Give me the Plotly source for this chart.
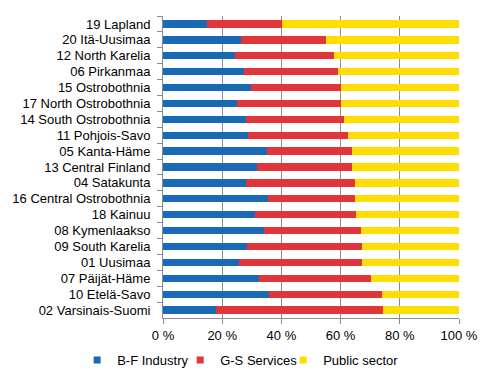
import plotly.graph_objects as go

regions = ["19 Lapland", "20 Itä-Uusimaa", "12 North Karelia", "06 Pirkanmaa",
           "15 Ostrobothnia", "17 North Ostrobothnia", "14 South Ostrobothnia",
           "11 Pohjois-Savo", "05 Kanta-Häme", "13 Central Finland", "04 Satakunta",
           "16 Central Ostrobothnia", "18 Kainuu", "08 Kymenlaakso", "09 South Karelia",
           "01 Uusimaa", "07 Päijät-Häme", "10 Etelä-Savo", "02 Varsinais-Suomi"]
industry = [15.0, 26.5, 24.4, 27.4, 29.8, 25.1, 28.0, 28.7, 35.2, 31.9, 28.0,
            35.5, 31.2, 34.1, 28.5, 25.8, 32.5, 35.9, 17.9]
services = [25.2, 28.6, 33.4, 31.7, 30.3, 35.0, 33.1, 33.8, 28.7, 32.0, 36.9,
            29.4, 34.0, 32.8, 38.7, 41.4, 37.8, 38.1, 56.5]
public = [round(100 - a - b, 1) for a, b in zip(industry, services)]

series_names = ["B-F Industry", "G-S Services", "Public sector"]
colors = ["#1A69B5", "#E0363A", "#FFDD00"]
x_ticks = [0, 20, 40, 60, 80, 100]
x_tick_labels = ["0 %", "20 %", "40 %", "60 %", "80 %", "100 %"]

fig = go.Figure()
for name, vals, col in zip(series_names, [industry, services, public], colors):
    fig.add_trace(go.Bar(y=regions, x=vals, name=name, orientation="h",
                         marker=dict(color=col, line=dict(width=0)),
                         showlegend=False))
    fig.add_trace(go.Scatter(x=[None], y=[None], mode="markers", name=name,
                             marker=dict(symbol="square", size=7, color=col)))
# invisible spacer entry so the last legend label is not clipped
fig.add_trace(go.Scatter(x=[None], y=[None], mode="markers", name=" ",
                         marker=dict(symbol="square", size=7,
                                     color="rgba(0,0,0,0)")))

font = dict(family="Liberation Sans, Arial, sans-serif", size=13, color="#000000")
fig.update_layout(
    barmode="stack",
    bargap=0.54,
    width=493, height=380,
    margin=dict(l=163, r=34, t=16, b=62, autoexpand=False),
    paper_bgcolor="white", plot_bgcolor="white",
    font=font,
    hovermode=False,
    xaxis=dict(range=[0, 100], tickmode="array", tickvals=x_ticks,
               ticktext=x_tick_labels,
               showgrid=True, gridcolor="#8C8C8C", gridwidth=1,
               showline=True, linecolor="#8C8C8C", linewidth=1,
               ticks="outside", ticklen=5, tickcolor="#8C8C8C",
               zeroline=False, automargin=False),
    yaxis=dict(autorange="reversed", showline=True, linecolor="#8C8C8C",
               linewidth=1, ticks="outside", ticklen=5, tickcolor="#8C8C8C",
               tickmode="linear", dtick=1,
               tickson="boundaries", showgrid=False, ticklabelstandoff=9,
               automargin=False),
    legend=dict(orientation="h", x=-0.29, xanchor="left", y=-0.139,
                yanchor="middle", font=font, traceorder="normal",
                entrywidth=58, entrywidthmode="pixels",
                bgcolor="rgba(0,0,0,0)"),
)

fig.write_html("out.html", config={"displayModeBar": False},
               post_script="document.body.style.margin='0';")
